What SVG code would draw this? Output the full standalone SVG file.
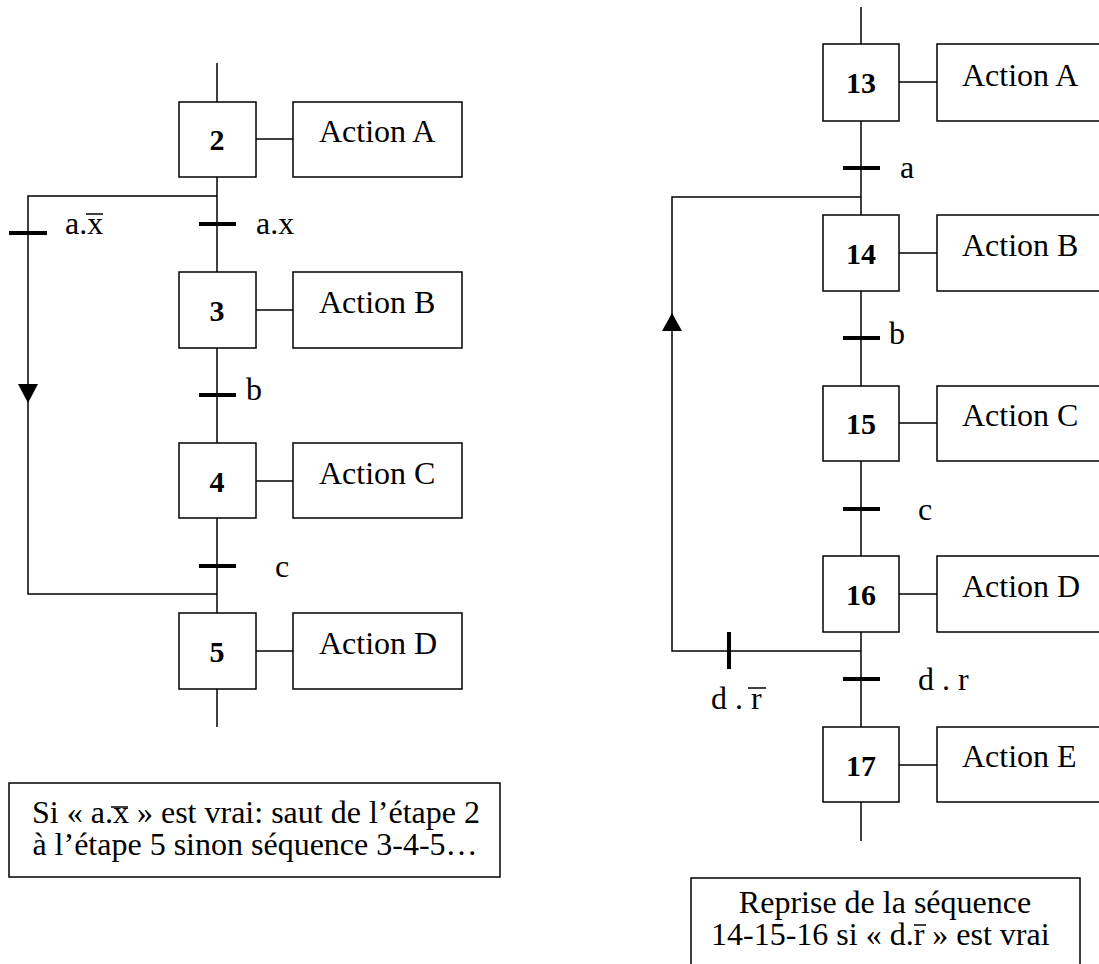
<svg xmlns="http://www.w3.org/2000/svg" width="1099" height="964" viewBox="0 0 1099 964">
<style>
.ln{stroke:#000;stroke-width:1.5;fill:none}
.ov{stroke:#000;stroke-width:1.5}
.bx{stroke:#000;stroke-width:1.5;fill:#fff}
.tr{stroke:#000;stroke-width:4;fill:none}
.t{font-family:"Liberation Serif","Times New Roman",serif;font-size:32px;fill:#000}
.n{font-family:"Liberation Serif","Times New Roman",serif;font-size:30px;font-weight:bold;fill:#000;text-anchor:middle}
.c{text-anchor:middle}
</style>
<rect width="1099" height="964" fill="#fff"/>
<g id="connectors">
<line class="ln" x1="217" y1="63" x2="217" y2="727"/>
<polyline class="ln" points="217,196 28,196 28,594 217,594"/>
<path d="M18,384 L38,384 L28,403 Z" fill="#000"/>
<line class="tr" x1="199" y1="224" x2="236" y2="224"/>
<line class="tr" x1="9" y1="233" x2="47" y2="233"/>
<line class="tr" x1="199" y1="395" x2="236" y2="395"/>
<line class="tr" x1="199" y1="566" x2="236" y2="566"/>
<line class="ln" x1="256" y1="139" x2="293" y2="139"/>
<line class="ln" x1="256" y1="310" x2="293" y2="310"/>
<line class="ln" x1="256" y1="481" x2="293" y2="481"/>
<line class="ln" x1="256" y1="651" x2="293" y2="651"/>
<line class="ln" x1="861" y1="7" x2="861" y2="841"/>
<polyline class="ln" points="861,197 672,197 672,651 861,651"/>
<path d="M662,331 L682,331 L672,313 Z" fill="#000"/>
<line class="tr" x1="843" y1="168" x2="880" y2="168"/>
<line class="tr" x1="843" y1="338" x2="880" y2="338"/>
<line class="tr" x1="843" y1="509" x2="880" y2="509"/>
<line class="tr" x1="843" y1="679" x2="880" y2="679"/>
<line class="tr" x1="729" y1="632" x2="729" y2="669"/>
<line class="ln" x1="899" y1="82" x2="937" y2="82"/>
<line class="ln" x1="899" y1="253" x2="937" y2="253"/>
<line class="ln" x1="899" y1="423" x2="937" y2="423"/>
<line class="ln" x1="899" y1="594" x2="937" y2="594"/>
<line class="ln" x1="899" y1="765" x2="937" y2="765"/>
</g>
<g id="labels">
<text class="t" x="65" y="234">a.x</text>
<line class="ov" x1="86" y1="214" x2="103" y2="214"/>
<text class="t" x="256" y="234">a.x</text>
<text class="t" x="246" y="400">b</text>
<text class="t" x="275" y="577">c</text>
<text class="t" x="900" y="178">a</text>
<text class="t" x="889" y="344">b</text>
<text class="t" x="918" y="520">c</text>
<text class="t" x="918" y="690">d . r</text>
<text class="t" x="711" y="709">d . r</text>
<line class="ov" x1="748" y1="688" x2="766" y2="688"/>
</g>
<g id="step2"><rect class="bx" x="179" y="102" width="77" height="75"/><text class="n" x="217" y="150">2</text></g>
<g id="actA1"><rect class="bx" x="293" y="102" width="169" height="75"/><text class="t" x="319" y="142">Action A</text></g>
<g id="step3"><rect class="bx" x="179" y="272" width="77" height="76"/><text class="n" x="217" y="321">3</text></g>
<g id="actB1"><rect class="bx" x="293" y="272" width="169" height="76"/><text class="t" x="319" y="313">Action B</text></g>
<g id="step4"><rect class="bx" x="179" y="443" width="77" height="75"/><text class="n" x="217" y="492">4</text></g>
<g id="actC1"><rect class="bx" x="293" y="443" width="169" height="75"/><text class="t" x="319" y="484">Action C</text></g>
<g id="step5"><rect class="bx" x="179" y="613" width="77" height="76"/><text class="n" x="217" y="662">5</text></g>
<g id="actD1"><rect class="bx" x="293" y="613" width="169" height="76"/><text class="t" x="319" y="654">Action D</text></g>
<g id="note1"><rect class="bx" x="9" y="783" width="491" height="94"/>
<text class="t" x="32" y="823" textLength="448" lengthAdjust="spacing">Si « a.x » est vrai: saut de l’étape 2</text>
<line class="ov" x1="111" y1="807" x2="128" y2="807"/>
<text class="t c" x="255" y="855">à l’étape 5 sinon séquence 3-4-5…</text></g>
<g id="step13"><rect class="bx" x="823" y="44" width="76" height="77"/><text class="n" x="861" y="93">13</text></g>
<g id="actA2"><rect class="bx" x="937" y="44" width="170" height="77"/><text class="t" x="962" y="86">Action A</text></g>
<g id="step14"><rect class="bx" x="823" y="215" width="76" height="76"/><text class="n" x="861" y="264">14</text></g>
<g id="actB2"><rect class="bx" x="937" y="215" width="170" height="76"/><text class="t" x="962" y="256">Action B</text></g>
<g id="step15"><rect class="bx" x="823" y="386" width="76" height="75"/><text class="n" x="861" y="434">15</text></g>
<g id="actC2"><rect class="bx" x="937" y="386" width="170" height="75"/><text class="t" x="962" y="426">Action C</text></g>
<g id="step16"><rect class="bx" x="823" y="556" width="76" height="76"/><text class="n" x="861" y="605">16</text></g>
<g id="actD2"><rect class="bx" x="937" y="556" width="170" height="76"/><text class="t" x="962" y="597">Action D</text></g>
<g id="step17"><rect class="bx" x="823" y="727" width="76" height="75"/><text class="n" x="861" y="776">17</text></g>
<g id="actE2"><rect class="bx" x="937" y="727" width="170" height="75"/><text class="t" x="962" y="767">Action E</text></g>
<g id="note2"><rect class="bx" x="691" y="878" width="389" height="100"/>
<text class="t c" x="885" y="913">Reprise de la séquence</text>
<text class="t" x="711" y="945">14-15-16 si « d.r » est vrai</text>
<line class="ov" x1="914" y1="925" x2="926" y2="925"/></g>
</svg>
